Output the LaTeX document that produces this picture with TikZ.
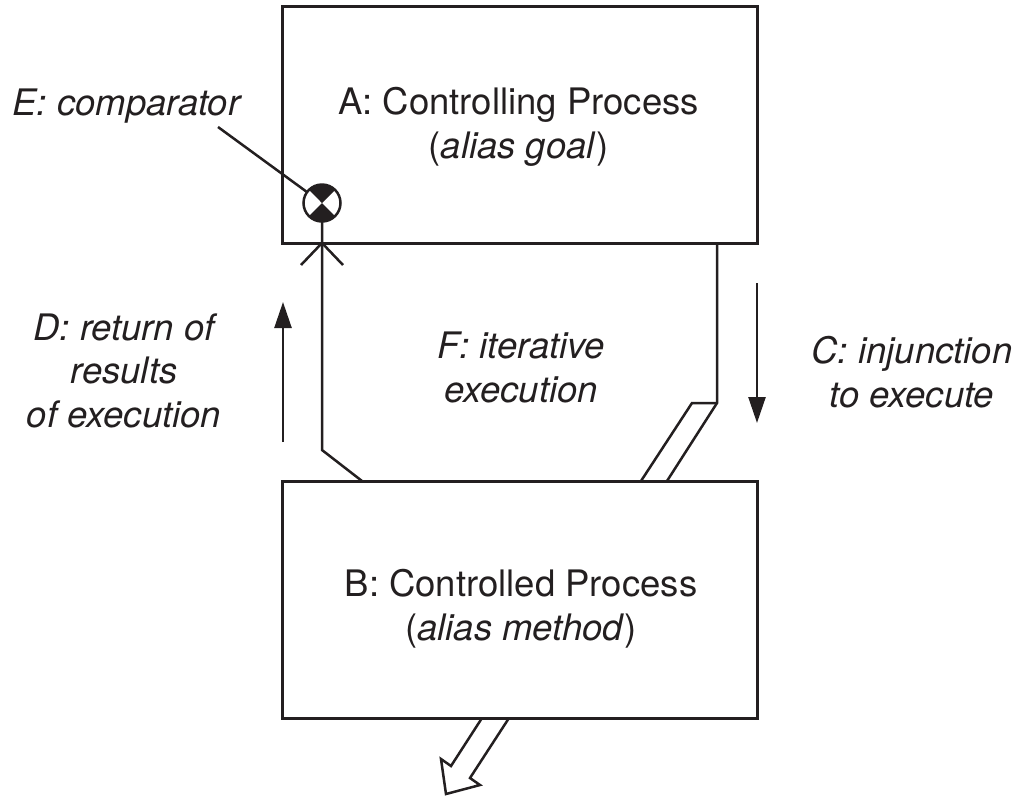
\documentclass[tikz,border=0pt]{standalone}
\usepackage{fontspec}
\setmainfont{TeX Gyre Heros}
\usetikzlibrary{arrows.meta,calc}
\definecolor{ink}{HTML}{231F20}
\begin{document}
\begin{tikzpicture}[x=1pt,y=-1pt,
  every node/.style={inner sep=0pt, outer sep=0pt, text=ink},
  proc/.style={draw=ink, line width=3pt, minimum width=475pt, minimum height=237pt},
  lbl/.style={font=\fontsize{36.5}{43.5}\selectfont, anchor=base, align=center},
  ilbl/.style={lbl, font=\fontsize{36.5}{43.5}\selectfont\itshape},
  wire/.style={draw=ink, line width=2.5pt},
  flow/.style={wire, -{Triangle[length=26pt,width=17pt]}},
]
\useasboundingbox (0,0) rectangle (1022,796);

% the two processes (label nodes are placed at the baseline of their last line)
\node[proc] (A) at (519.5,124.5) {};
\node[proc] (B) at (519.5,599.5) {};
\node[lbl] (Alabel) at (518.5,158) {A: Controlling Process\\(\textit{alias goal})};
\node[lbl] (Blabel) at (521,640) {B: Controlled Process\\(\textit{alias method})};

% comparator
\node[circle, draw=ink, line width=2.5pt, minimum size=37pt,
  path picture={
    \fill[ink] (path picture bounding box.center) -- ++(45:30pt) -- ++(180:42.4pt) -- cycle;
    \fill[ink] (path picture bounding box.center) -- ++(-45:30pt) -- ++(180:42.4pt) -- cycle;
  }] (E) at (322,203) {};
\node[ilbl] (Elbl) at (126.5,115) {E: comparator};
\coordinate (Elead) at (218,127);
\draw[wire] (Elead) -- (E);

% return path into the comparator
\draw[wire] ($(B.north west)+(80,0)$) -- ($(B.north west)+(40,-31)$) -- (E.south);
\draw[wire, line join=miter] ($(A.south west)+(19,22)$) -- ($(A.south west)+(40,0)$) -- ($(A.south west)+(61,22)$);

% injunction path into the controlled process
\coordinate (Cr) at ($(A.south east)+(-40,160)$);
\draw[wire, line join=miter] ($(A.south east)+(-40,0)$) -- (Cr) -- ($(B.north west)+(385,0)$);
\draw[wire, line join=miter] ($(B.north west)+(359,0)$) -- ($(Cr)+(-25,0)$) -- (Cr);

% output of the controlled process
\coordinate (Oa) at ($(B.south west)+(200,0)$);
\coordinate (Ob) at ($(B.south west)+(227,0)$);
\coordinate (Otip) at ($(B.south west)+(164,76)$);
\draw[wire, line join=miter] (Oa) -- ($(B.south west)+(169,48)$) -- ($(B.south west)+(159,41)$)
  -- (Otip) -- ($(B.south west)+(198,67)$) -- ($(B.south west)+(188,60)$) -- (Ob);

% direction arrows
\coordinate (Dbot) at ($(A.south west)+(1,199)$);
\coordinate (Dtop) at ($(A.south west)+(1,59)$);
\draw[flow] (Dbot) -- (Dtop);
\coordinate (Ctop) at ($(A.south east)+(0,40)$);
\coordinate (Cbot) at ($(A.south east)+(0,180)$);
\draw[flow] (Ctop) -- (Cbot);

% labels
\node[ilbl] (Dlbl) at (124,427) {D: return of\\results\\of execution};
\node[ilbl] (Flbl) at (521,402) {F: iterative\\execution};
\node[ilbl] (Clbl) at (912,407) {C: injunction\\to execute};
\end{tikzpicture}
\end{document}
